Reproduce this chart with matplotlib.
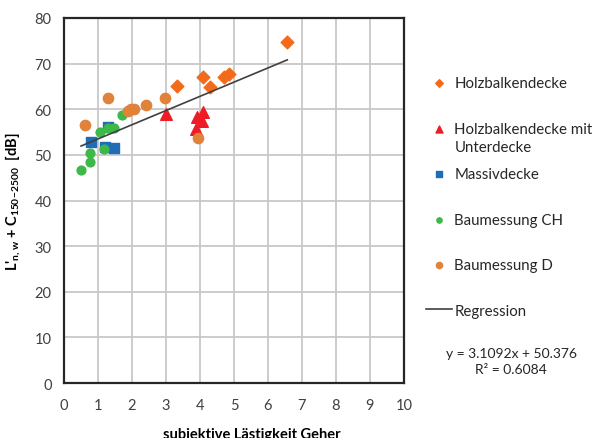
import numpy as np
import matplotlib.pyplot as plt

plt.rcParams['font.family'] = ['Lato', 'DejaVu Sans']
plt.rcParams['mathtext.fontset'] = 'custom'
plt.rcParams['mathtext.rm'] = 'Lato'
plt.rcParams['mathtext.bf'] = 'Lato:bold'

# Holzbalkendecke
hb_x = [3.32, 4.09, 4.29, 4.70, 4.85, 6.57]
hb_y = [65.0, 67.1, 64.8, 67.0, 67.7, 74.8]
# Holzbalkendecke mit Unterdecke
hbu_x = [3.00, 4.09, 3.91, 4.06, 3.88]
hbu_y = [59.0, 59.3, 58.2, 57.4, 55.7]
# Massivdecke
mas_x = [0.80, 1.29, 1.21, 1.46]
mas_y = [52.8, 56.2, 51.8, 51.5]
# Baumessung CH
ch_x = [0.50, 0.75, 0.77, 1.06, 1.28, 1.47, 1.72, 1.19]
ch_y = [46.7, 48.4, 50.3, 54.9, 55.8, 55.8, 58.7, 51.2]
# Baumessung D
d_x = [0.62, 1.29, 1.88, 1.97, 2.05, 2.41, 2.98, 3.93]
d_y = [56.6, 62.5, 59.7, 60.1, 60.0, 60.9, 62.5, 53.6]

slope = 3.1092
intercept = 50.376
r2 = 0.6084

fig = plt.figure(figsize=(5.93, 4.39), dpi=100)
ax = fig.add_axes([0.108, 0.125, 0.573, 0.832])

ax.scatter(hb_x, hb_y, marker='D', s=42, color='#F26B1D', label='Holzbalkendecke', zorder=3)
ax.scatter(hbu_x, hbu_y, marker='^', s=70, color='#EE1C25',
           label='Holzbalkendecke mit', zorder=3)
ax.scatter(mas_x, mas_y, marker='s', s=60, color='#1E6DB5', label='Massivdecke', zorder=3)
ax.scatter(ch_x, ch_y, marker='o', s=40, color='#3DB849', label='Baumessung CH', zorder=3)
ax.scatter(d_x, d_y, marker='o', s=55, color='#E0823A', label='Baumessung D', zorder=3)

all_x = np.array(hb_x + hbu_x + mas_x + ch_x + d_x)
reg_x = np.array([all_x.min(), all_x.max()])
ax.plot(reg_x, slope * reg_x + intercept, color='#404040', lw=1.2, label='Regression', zorder=4)

ax.set_xlim(0, 10)
ax.set_ylim(0, 80)
ax.set_xticks(range(0, 11))
ax.set_yticks(range(0, 81, 10))
ax.grid(True, color='#c8c8c8', lw=1.3)
ax.set_axisbelow(True)
for sp in ax.spines.values():
    sp.set_color('#262626')
    sp.set_linewidth(1.6)
ax.tick_params(length=0, labelsize=10.5, colors='#404040')
ax.tick_params(axis='x', pad=11)
ax.tick_params(axis='y', pad=9)

ax.set_xlabel('subjektive Lästigkeit Geher', fontsize=10.5, fontweight='bold')
ax.xaxis.set_label_coords(0.553, -0.12)
ax.set_ylabel(r"L'$_{\mathbf{n,w}}$ + C$_{\mathbf{150\!-\!2500}}$  [dB]",
              fontsize=10.5, fontweight='bold', labelpad=8)

handles, labels = ax.get_legend_handles_labels()
leg = fig.legend(handles, labels, loc='upper left', bbox_to_anchor=(0.695, 0.855),
                 frameon=False, fontsize=10.8, markerscale=0.6, labelspacing=2.1,
                 handlelength=1.75, handletextpad=0.15, borderpad=0.4)
for t in leg.get_texts():
    t.set_color('#262626')
fig.text(0.767, 0.663, 'Unterdecke', ha='left', va='center', fontsize=10.8, color='#262626')

fig.text(0.862, 0.175, f'y = {slope}x + {intercept}\nR² = {r2}', ha='center', va='center',
         fontsize=10, color='#262626', linespacing=1.45)

fig.savefig('out.png', dpi=100)
